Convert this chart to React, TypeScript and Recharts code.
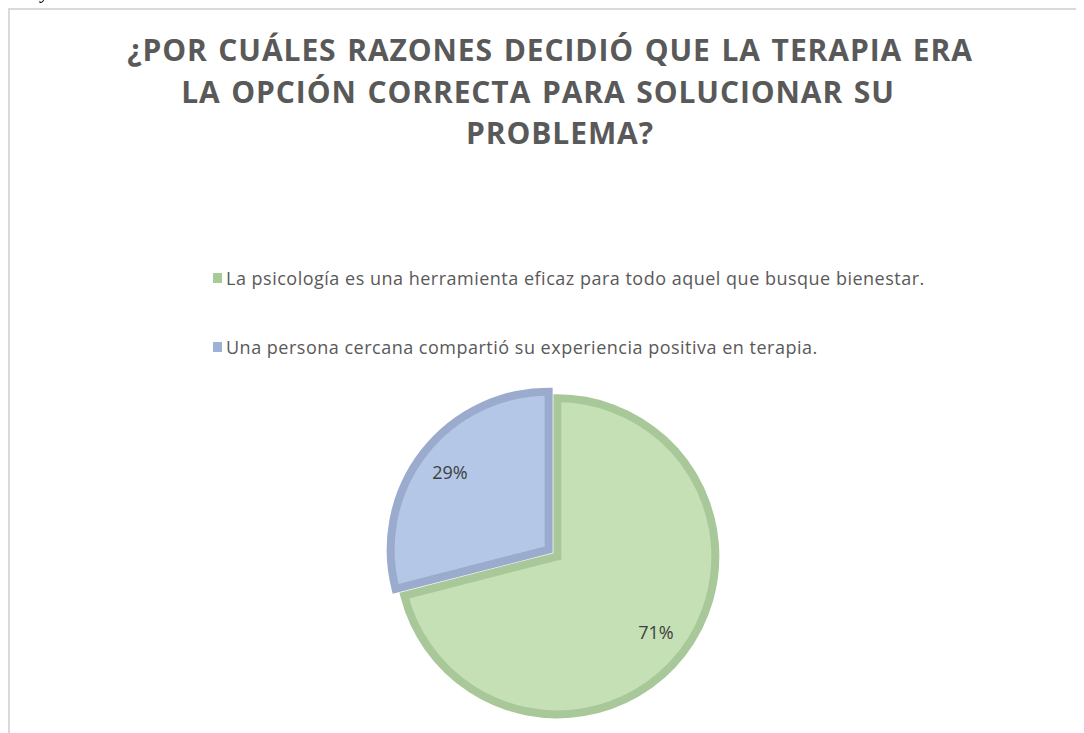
import { PieChart, Pie, Cell, Legend } from "recharts";

const categories = [
  "La psicología es una herramienta eficaz para todo aquel que busque bienestar.",
  "Una persona cercana compartió su experiencia positiva en terapia.",
];
const values = [71, 29];
const titleLines = [
  "¿POR CUÁLES RAZONES DECIDIÓ QUE LA TERAPIA ERA",
  "LA OPCIÓN CORRECTA PARA SOLUCIONAR SU",
  "PROBLEMA?",
];

const FILLS = ["#C5E0B4", "#B4C7E7"];
const STROKES = ["#A9C89A", "#9AABCE"];
const KEYS = ["#A8CB96", "#9EB1D7"];
const TITLE_SHIFT = [3, -9, 13];

const W = 1074;
const H = 723;
const CX = 543;
const CY = 543;
const R = 158;
const EXPLODE = 5.5;
const RAD = Math.PI / 180;

const total = values.reduce((a, b) => a + b, 0);
let acc = 0;
const slices = categories.map((name, i) => {
  const start = 90 - (acc / total) * 360;
  acc += values[i];
  const end = 90 - (acc / total) * 360;
  const mid = (start + end) / 2;
  return {
    name,
    value: values[i],
    start,
    end,
    cx: CX + EXPLODE * Math.cos(mid * RAD),
    cy: CY - EXPLODE * Math.sin(mid * RAD),
  };
});

const renderLabel = (props: any) => {
  const { cx, cy, midAngle, outerRadius, value } = props;
  const r = outerRadius * 0.79;
  const x = cx + r * Math.cos(-midAngle * RAD);
  const y = cy + r * Math.sin(-midAngle * RAD);
  return (
    <text
      x={x}
      y={y - 1}
      fill="#404040"
      fontSize={18}
      fontFamily="'Open Sans', sans-serif"
      textAnchor="middle"
      dominantBaseline="central"
    >
      {`${Math.round((value / total) * 100)}%`}
    </text>
  );
};

const renderLegend = () => (
  <div style={{ fontFamily: "'Open Sans', sans-serif", color: "#595959" }}>
    {categories.map((c, i) => (
      <div
        key={c}
        style={{ display: "flex", alignItems: "center", height: 24, marginBottom: i === 0 ? 45 : 0 }}
      >
        <span style={{ width: 9, height: 10, background: KEYS[i], marginRight: 4, flexShrink: 0 }} />
        <span style={{ fontSize: 18, letterSpacing: 0.5, whiteSpace: "nowrap" }}>{c}</span>
      </div>
    ))}
  </div>
);

export default function App() {
  return (
    <div>
      <div
        style={{
          position: "fixed",
          top: -19,
          left: 41,
          fontSize: 20,
          lineHeight: "20px",
          fontFamily: "'Liberation Serif', serif",
          fontStyle: "italic",
          color: "#000",
        }}
      >
        y
      </div>
      <div
        style={{
          position: "relative",
          width: W,
          height: H,
          borderLeft: "2px solid #dadada",
          borderTop: "2px solid #dadada",
          background: "#fff",
        }}
      >
        <div
          style={{
            position: "absolute",
            top: 19,
            left: 0,
            width: W,
            textAlign: "center",
            fontFamily: "'Open Sans', sans-serif",
            fontWeight: 700,
            fontSize: 30,
            lineHeight: "41.5px",
            letterSpacing: 0.9,
            wordSpacing: 2,
            color: "#595959",
            zIndex: 2,
          }}
        >
          {titleLines.map((t, i) => (
            <div key={t} style={{ position: "relative", left: TITLE_SHIFT[i] }}>
              {t}
            </div>
          ))}
        </div>
        <PieChart width={W} height={H} margin={{ top: 0, right: 0, bottom: 0, left: 0 }}>
          {slices.map((s, i) => (
            <Pie
              key={s.name}
              data={[{ name: s.name, value: s.value }]}
              dataKey="value"
              nameKey="name"
              cx={s.cx}
              cy={s.cy}
              outerRadius={R}
              startAngle={s.start}
              endAngle={s.end}
              stroke={STROKES[i]}
              strokeWidth={8}
              label={renderLabel}
              labelLine={false}
              isAnimationActive={false}
            >
              <Cell fill={FILLS[i]} stroke={STROKES[i]} strokeWidth={8} />
            </Pie>
          ))}
          <Legend
            layout="horizontal"
            verticalAlign="middle"
            align="center"
            content={renderLegend}
            wrapperStyle={{ left: 203, top: 256, width: 840 }}
          />
        </PieChart>
      </div>
    </div>
  );
}
